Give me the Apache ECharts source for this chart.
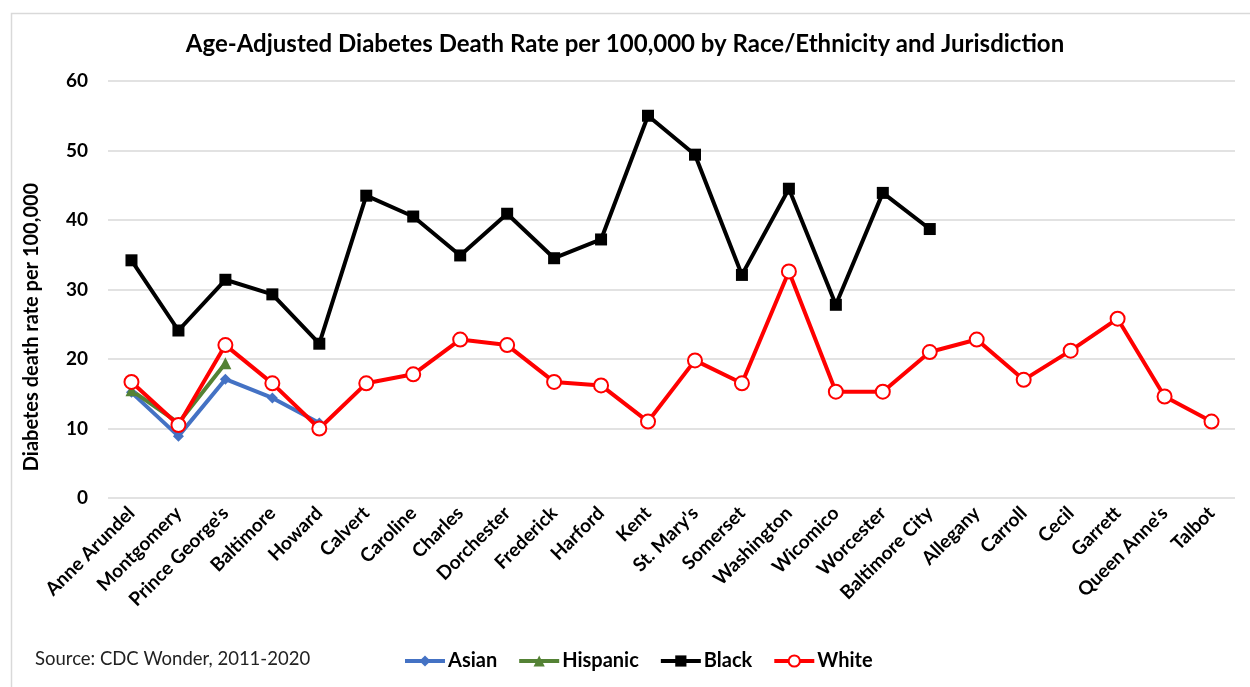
<!DOCTYPE html>
<html>
<head>
<meta charset="utf-8">
<script src="https://cdn.jsdelivr.net/npm/echarts@6/dist/echarts.min.js"></script>
<style>
  html, body { margin: 0; padding: 0; background: #fff; }
  #chart { width: 1250px; height: 687px; }
</style>
</head>
<body>
<div id="chart"></div>
<script>
// Maryland jurisdictions, in display order
const jurisdictions = [
  "Anne Arundel", "Montgomery", "Prince George's", "Baltimore", "Howard",
  "Calvert", "Caroline", "Charles", "Dorchester", "Frederick", "Harford",
  "Kent", "St. Mary's", "Somerset", "Washington", "Wicomico", "Worcester",
  "Baltimore City", "Allegany", "Carroll", "Cecil", "Garrett",
  "Queen Anne's", "Talbot"
];

// Age-adjusted diabetes death rate per 100,000 (null = not reported)
const asianRates = [15.2, 8.9, 17.1, 14.4, 10.8,
  null, null, null, null, null, null, null, null, null, null, null, null,
  null, null, null, null, null, null, null];

const hispanicRates = [15.5, 10.8, 19.4,
  null, null, null, null, null, null, null, null, null, null, null, null,
  null, null, null, null, null, null, null, null, null];

const blackRates = [34.2, 24.1, 31.4, 29.3, 22.2, 43.5, 40.5, 34.9, 40.9,
  34.5, 37.2, 55.0, 49.4, 32.1, 44.5, 27.8, 43.9, 38.7,
  null, null, null, null, null, null];

const whiteRates = [16.7, 10.5, 22.0, 16.5, 10.0, 16.5, 17.8, 22.8, 22.0,
  16.7, 16.2, 11.0, 19.8, 16.5, 32.6, 15.3, 15.3, 21.0, 22.8, 17.0,
  21.2, 25.8, 14.6, 11.0];

const yTicks = [0, 10, 20, 30, 40, 50, 60];

const FONT = 'Lato, "Open Sans", sans-serif';

const chart = echarts.init(document.getElementById('chart'), null, { renderer: 'canvas' });

chart.setOption({
  backgroundColor: '#ffffff',
  animation: false,
  title: {
    text: 'Age-Adjusted Diabetes Death Rate per 100,000 by Race/Ethnicity and Jurisdiction',
    left: 'center',
    top: 27,
    textStyle: { fontFamily: FONT, fontSize: 24, fontWeight: 'bold', color: '#000' }
  },
  grid: { left: 108, right: 15, top: 81, bottom: 189, containLabel: false },
  legend: {
    bottom: 11,
    left: 398,
    itemWidth: 40,
    itemHeight: 14,
    itemGap: 20,
    lineStyle: { width: 4 },
    textStyle: { fontFamily: FONT, fontSize: 20, fontWeight: 'bold', color: '#000', padding: [0, 0, 0, -2] },
    data: ['Asian', 'Hispanic', 'Black', 'White']
  },
  xAxis: {
    type: 'category',
    data: jurisdictions,
    boundaryGap: true,
    axisLine: { show: false },
    axisTick: { show: false },
    axisLabel: {
      interval: 0,
      rotate: 45,
      margin: 12,
      fontFamily: FONT,
      fontSize: 19,
      fontWeight: 'bold',
      color: '#000'
    }
  },
  yAxis: {
    type: 'value',
    min: yTicks[0],
    max: yTicks[yTicks.length - 1],
    interval: 10,
    axisLine: { show: false },
    axisTick: { show: false },
    splitLine: { lineStyle: { color: '#d9d9d9', width: 1.5 } },
    axisLabel: {
      margin: 20,
      fontFamily: FONT,
      fontSize: 19,
      fontWeight: 'bold',
      color: '#000'
    }
  },
  graphic: [
    {
      type: 'rect',
      left: 9, top: 11,
      shape: { width: 1260, height: 700 },
      style: { fill: 'none', stroke: '#d9d9d9', lineWidth: 1.5 },
      silent: true
    },
    {
      type: 'text',
      x: 32, y: 327,
      rotation: Math.PI / 2,
      style: {
        text: 'Diabetes death rate per 100,000',
        fontFamily: FONT, fontSize: 20, fontWeight: 'bold', fill: '#000',
        align: 'center', verticalAlign: 'middle'
      }
    },
    {
      type: 'text',
      left: 35, top: 650,
      style: {
        text: 'Source: CDC Wonder, 2011-2020',
        fontFamily: FONT, fontSize: 18.5, fill: '#222'
      }
    }
  ],
  series: [
    {
      name: 'Asian', type: 'line', data: asianRates,
      symbol: 'diamond', symbolSize: 11,
      lineStyle: { color: '#4472C4', width: 4 },
      itemStyle: { color: '#4472C4' }
    },
    {
      name: 'Hispanic', type: 'line', data: hispanicRates,
      symbol: 'triangle', symbolSize: 12,
      lineStyle: { color: '#548235', width: 4 },
      itemStyle: { color: '#548235' }
    },
    {
      name: 'Black', type: 'line', data: blackRates,
      symbol: 'rect', symbolSize: 12,
      lineStyle: { color: '#000000', width: 4 },
      itemStyle: { color: '#000000' }
    },
    {
      name: 'White', type: 'line', data: whiteRates,
      symbol: 'circle', symbolSize: 14,
      lineStyle: { color: '#FF0000', width: 4 },
      itemStyle: { color: '#ffffff', borderColor: '#FF0000', borderWidth: 2 }
    }
  ]
});
</script>
</body>
</html>
